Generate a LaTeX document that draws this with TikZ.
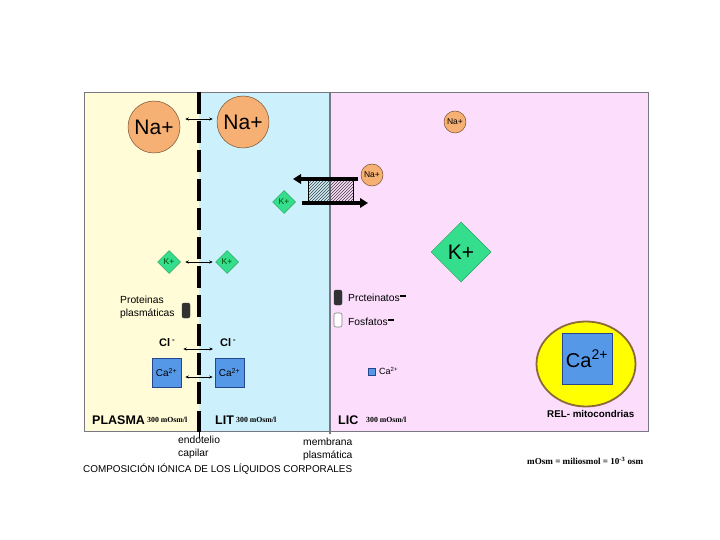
\documentclass[tikz,border=0pt]{standalone}
\usepackage{fontspec}
\setmainfont{Liberation Sans}
\newfontfamily\serifx{Liberation Serif}
\usetikzlibrary{shapes.geometric,arrows.meta,patterns}
\definecolor{plasmabg}{RGB}{255,252,215}
\definecolor{litbg}{RGB}{204,240,252}
\definecolor{licbg}{RGB}{252,222,252}
\definecolor{framec}{RGB}{120,120,130}
\definecolor{naor}{RGB}{246,176,115}
\definecolor{nabd}{RGB}{120,80,50}
\definecolor{kgreen}{RGB}{52,222,140}
\definecolor{kbd}{RGB}{40,160,95}
\definecolor{cablue}{RGB}{86,152,232}
\definecolor{cabd}{RGB}{40,70,140}
\definecolor{relyel}{RGB}{255,255,0}
\definecolor{relbd}{RGB}{140,105,55}
\definecolor{protc}{RGB}{50,50,50}
\begin{document}
\begin{tikzpicture}[x=1pt,y=-1pt,
  na/.style={circle, fill=naor, draw=nabd, line width=0.5pt, inner sep=0pt},
  naBig/.style={na, minimum size=52pt, font=\fontsize{21}{24}\selectfont},
  naSmall/.style={na, minimum size=22pt, font=\fontsize{8.5}{10}\selectfont},
  kd/.style={diamond, aspect=1, fill=kgreen, draw=kbd, line width=0.5pt, inner sep=0pt},
  kSmall/.style={kd, minimum size=23pt, text=black!70!green, font=\fontsize{8.5}{10}\selectfont},
  kBig/.style={kd, minimum size=60pt, font=\fontsize{21}{24}\selectfont},
  cab/.style={rectangle, fill=cablue, draw=cabd, line width=0.6pt, inner sep=0pt},
  dbl/.style={{Stealth[length=3.5pt,width=3pt]}-{Stealth[length=3.5pt,width=3pt]}, line width=0.6pt},
  pumparrow/.style={line width=3.5pt, -{Triangle[length=8pt,width=9.5pt]}},
  lbl/.style={inner sep=0pt, anchor=west, font=\fontsize{10.3}{13}\selectfont},
  bigname/.style={inner sep=0pt, anchor=west, font=\fontsize{12.5}{14}\selectfont\bfseries},
  osm/.style={inner sep=0pt, anchor=west, font=\serifx\fontsize{7.8}{9}\selectfont\bfseries},
  blob/.style={rectangle, rounded corners=2pt, inner sep=0pt, minimum width=8pt}
]
\useasboundingbox (0,0) rectangle (720,540);
\fill[white] (0,0) rectangle (720,540);
% compartments
\fill[plasmabg] (84,92) rectangle (199,431);
\fill[litbg] (199,92) rectangle (330,431);
\fill[licbg] (330,92) rectangle (648,431);
\draw[framec, line width=0.8pt] (84,92) rectangle (648,431);
% membranes
\draw[black, line width=4pt, dash pattern=on 22pt off 7pt] (199,92) -- (199,432);
\draw[black, line width=0.8pt] (199,431) -- (199,438);
\draw[framec, line width=1.8pt] (330,92) -- (330,434);

% Na+
\node[naBig] (naP) at (154,127) {Na+};
\node[naBig] (naT) at (243,122) {Na+};
\draw[dbl, shorten <=5pt, shorten >=4pt] ([yshift=8pt]naP.east) -- ([yshift=3pt]naT.west);
\node[naSmall] (naI) at (455,122) {Na+};

% pump
\node[draw=black, line width=0.6pt, fill=gray!35, pattern=north east lines, pattern color=black!75,
      minimum width=45pt, minimum height=22pt, inner sep=0pt] (pumpbox) at (330.5,191) {};
\node[naSmall] (naM) at (372,175) {Na+};
\node[kSmall] (kM) at (284,202) {K+};
\coordinate (pa1) at (358,179);
\coordinate (pa2) at (293,179);
\coordinate (pb1) at (302,203);
\coordinate (pb2) at (368,203);
\draw[pumparrow] (pa1) -- (pa2);
\draw[pumparrow] (pb1) -- (pb2);

% K+
\node[kSmall] (kP) at (169,262) {K+};
\node[kSmall] (kT) at (227,262) {K+};
\draw[dbl, shorten <=4.5pt, shorten >=2.5pt] (kP.east) -- (kT.west);
\node[kBig] (kI) at (461,252) {K+};

% proteins
\node[lbl, anchor=north west, align=left, font=\fontsize{10.3}{12.5}\selectfont] (protPl) at (120,296) {Proteinas\\plasmáticas};
\node[blob, fill=protc, draw=protc, minimum height=15pt] (protPb) at (186,310.5) {};
\node[blob, fill=protc, draw=protc, minimum height=15pt] (protIb) at (338,297.5) {};
\node[blob, fill=white, draw=gray, line width=0.6pt, minimum height=14pt] (fosIb) at (338,320) {};
\node[lbl] (protIl) at (348,298) {Prcteinatos\raisebox{4.5pt}{\rule{6.5pt}{1.7pt}}};
\node[lbl] (fosIl) at (348,322) {Fosfatos\raisebox{4.5pt}{\rule{6.5pt}{1.7pt}}};

% Cl-
\node[inner sep=0pt, anchor=west, font=\fontsize{11}{13}\selectfont\bfseries] (clP) at (159,343) {Cl\,\textsuperscript{-}};
\node[inner sep=0pt, anchor=west, font=\fontsize{11}{13}\selectfont\bfseries] (clT) at (220,343) {Cl\,\textsuperscript{-}};
\draw[dbl, shorten <=8pt, shorten >=7pt] ([yshift=-6pt]clP.east) -- ([yshift=-6pt]clT.west);

% Ca2+
\node[cab, minimum size=29pt, font=\fontsize{10}{12}\selectfont] (caP) at (166.5,372.5) {Ca\textsuperscript{2+}};
\node[cab, minimum size=29pt, font=\fontsize{10}{12}\selectfont] (caT) at (229.5,372.5) {Ca\textsuperscript{2+}};
\draw[dbl, shorten <=4pt, shorten >=2pt] ([yshift=-4.5pt]caP.east) -- ([yshift=-4.5pt]caT.west);
\node[cab, minimum size=7pt] (caIsq) at (371.5,371.5) {};
\node[lbl, font=\fontsize{9}{11}\selectfont] (caIl) at (379,371) {Ca\textsuperscript{2+}};

% REL - mitocondrias
\node[ellipse, fill=relyel, draw=relbd, line width=1.8pt, minimum width=99pt, minimum height=85pt, inner sep=0pt] (rel) at (586,364) {};
\node[cab, minimum width=50pt, minimum height=51pt, font=\fontsize{20}{24}\selectfont] (caRel) at (587,358.5) {Ca\textsuperscript{2+}};
\node[lbl, font=\fontsize{9.8}{11}\selectfont\bfseries] (relL) at (547,414) {REL- mitocondrias};

% bottom labels
\node[bigname] (plasmaL) at (92,420) {PLASMA};
\node[osm] (plasmaO) at (147,420) {300 mOsm/l};
\node[bigname] (litL) at (215,420) {LIT};
\node[osm] (litO) at (236,420) {300 mOsm/l};
\node[bigname] (licL) at (338,420) {LIC};
\node[osm] (licO) at (366,420) {300 mOsm/l};
\node[lbl, anchor=north west, align=left] (endo) at (178,436) {endotelio\\capilar};
\node[lbl, anchor=north west, align=left] (memb) at (303,438) {membrana\\plasmática};
\node[inner sep=0pt, anchor=west, font=\fontsize{9.9}{11}\selectfont] (title) at (83,469) {COMPOSICIÓN IÓNICA DE LOS LÍQUIDOS CORPORALES};
\node[osm, font=\serifx\fontsize{9.1}{10}\selectfont\bfseries] (unit) at (527,461) {mOsm = miliosmol = 10\textsuperscript{-3} osm};
\end{tikzpicture}
\end{document}
